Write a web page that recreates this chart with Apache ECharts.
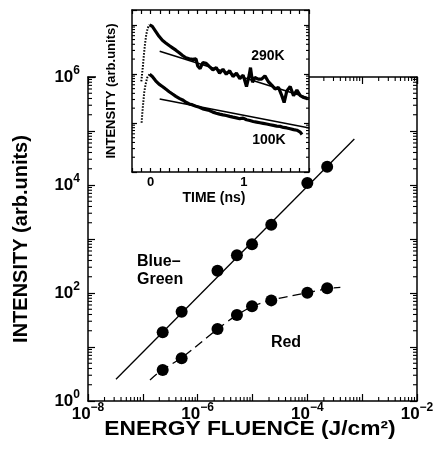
<!DOCTYPE html>
<html><head><meta charset="utf-8">
<script src="https://cdn.jsdelivr.net/npm/echarts@6/dist/echarts.min.js"></script>
<style>html,body{margin:0;padding:0;background:#fff}#c{width:438px;height:450px}</style>
</head><body><div id="c"></div>
<script>
// ---- main panel data ----
const fluence   = [2.3e-7, 5.1e-7, 2.3e-6, 5.2e-6, 9.8e-6, 2.2e-5, 1.0e-4, 2.3e-4];
const blueGreen = [18.7, 45, 259, 499, 798, 1840, 10900, 21800];
const red       = [3.75, 6.2, 21.5, 39, 57, 73, 101, 122];
const blueGreenFitX = [3.24e-8, 7.2e-4];
const blueGreenFitY = [2.52, 71100];
const redFitX = [1.35e-7, 2.2e-7, 5.1e-7, 2.3e-6, 5.2e-6, 9.8e-6, 2.2e-5, 1.0e-4, 2.3e-4, 4.0e-4];
const redFitY = [2.45, 3.7, 6.3, 21.5, 39, 56, 74, 101, 120, 127];

// ---- inset data (time in ns, intensity arb.) ----
const rise290T = [-0.100, -0.083, -0.072, -0.061, -0.047, -0.032, -0.011];
const rise290I = [70, 144, 248, 395, 628, 857, 1000];
const decay290T = [-0.011, 0.018, 0.054, 0.090, 0.126, 0.162, 0.199, 0.235, 0.271, 0.307, 0.343, 0.379, 0.415, 0.451, 0.487,
  0.505, 0.531, 0.560, 0.596, 0.632, 0.668, 0.704, 0.740, 0.776, 0.812, 0.848, 0.884, 0.921, 0.957, 0.993,
  1.029, 1.058, 1.072, 1.094, 1.119, 1.155, 1.191, 1.227, 1.264, 1.300, 1.336, 1.372, 1.408, 1.433, 1.462,
  1.498, 1.534, 1.570, 1.606, 1.643, 1.686];
const decay290I = [1000, 925, 735, 582, 483, 427, 378, 339, 304, 269, 237, 213, 203, 197, 203,
  145, 128, 169, 164, 140, 120, 134, 103, 124, 98, 116, 88, 103, 80, 94,
  55, 94, 134, 67, 84, 78, 78, 91, 69, 59, 49, 53, 36, 26, 45,
  55, 36, 47, 36, 33, 31];
const fit290T = [0.097, 1.704];
const fit290I = [290, 31.7];

const rise100T = [-0.097, -0.090, -0.079, -0.069, -0.054, -0.036, -0.011];
const rise100I = [10.1, 15.3, 26.4, 41.9, 61.7, 84.1, 98.2];
const decay100T = [-0.011, 0.018, 0.054, 0.090, 0.126, 0.162, 0.199, 0.235, 0.271, 0.307, 0.343, 0.379, 0.415, 0.451, 0.487,
  0.523, 0.560, 0.596, 0.632, 0.668, 0.704, 0.740, 0.776, 0.812, 0.848, 0.884, 0.921, 0.957, 0.993,
  1.029, 1.065, 1.101, 1.137, 1.173, 1.209, 1.245, 1.282, 1.318, 1.354, 1.390, 1.426, 1.462, 1.498,
  1.534, 1.570, 1.606, 1.625];
const decay100I = [98.2, 88.1, 72.1, 61.7, 55.3, 48.9, 43.3, 38.8, 34.8, 31.7, 29.4, 26.4, 24.4, 23.3, 21.9,
  20.9, 19.3, 18.7, 17.9, 16.6, 15.8, 15.1, 14.6, 14.2, 13.6, 13.1, 12.7, 12.2, 12.5,
  11.6, 11.2, 10.7, 10.4, 10.1, 9.8, 9.5, 9.2, 8.9, 8.6, 8.5, 8.1, 7.9, 7.6,
  7.3, 7.1, 6.5, 5.8];
const fit100T = [0.097, 1.704];
const fit100I = [30.8, 7.9];

// ---- axis tick definitions ----
const mainXDecades = [1e-8, 1e-7, 1e-6, 1e-5, 1e-4, 1e-3];
const mainYDecades = [1, 10, 100, 1e3, 1e4, 1e5];
const insetYDecades = [1, 10, 100];
const minorMultipliers = [2, 3, 4, 5, 6, 7, 8, 9];

const FF = '"Liberation Sans", Arial, Helvetica, sans-serif';
const zip = (a, b) => a.map((v, i) => [v, b[i]]);
const minorValues = decs => decs.flatMap(d => minorMultipliers.map(m => m * d));

function decadeLabel(v) {
  const e = Math.round(Math.log10(v));
  if (e % 2 !== 0) return '';
  return '{b|10}{s|' + String(e).replace('-', '\u2212') + '}';
}
const richSup = {
  b: { fontSize: 17, fontWeight: 'bold', fontFamily: FF, color: '#000', lineHeight: 24 },
  s: { fontSize: 12, fontWeight: 'bold', fontFamily: FF, color: '#000', lineHeight: 12, verticalAlign: 'top' }
};
const lineStyle = { color: '#000', width: 1.5 };
const tickStyle = { color: '#000', width: 1.2 };

function logAxis(gridIndex, position, min, max, showLabel, z) {
  return {
    type: 'log', logBase: 10, gridIndex, position, min, max, z,
    axisLine: { show: true, onZero: false, lineStyle },
    axisTick: { show: true, inside: true, length: gridIndex === 0 ? 7 : 5, lineStyle: tickStyle },
    minorTick: { show: false },
    splitLine: { show: false }, minorSplitLine: { show: false },
    axisLabel: showLabel ? { show: true, formatter: decadeLabel, rich: richSup, margin: position === 'left' ? 8 : 1 } : { show: false }
  };
}
function timeAxis(position, showLabel) {
  return {
    type: 'value', gridIndex: 1, position, min: -0.2, max: 1.7, interval: 0.1, z: 4,
    axisLine: { show: true, onZero: false, lineStyle },
    axisTick: { show: true, inside: true, length: 4, lineStyle: tickStyle },
    splitLine: { show: false },
    axisLabel: showLabel ? {
      show: true, margin: 4, fontSize: 13, fontWeight: 'bold', fontFamily: FF, color: '#000',
      formatter: v => Math.abs(v) < 1e-6 ? '0' : (Math.abs(v - 1) < 1e-6 ? '1' : '')
    } : { show: false }
  };
}
// minor tick marks as tiny rect symbols placed through the axes' own scales
function minorTicks(xIdx, yIdx, data, vertical, offset, z) {
  const len = Math.abs(offset) * 2;
  return {
    type: 'scatter', xAxisIndex: xIdx, yAxisIndex: yIdx, z, clip: false, silent: true,
    data, symbol: 'rect',
    symbolSize: vertical ? [1.1, len] : [len, 1.1],
    symbolOffset: vertical ? [0, offset] : [offset, 0],
    itemStyle: { color: '#000', opacity: 1 },
    emphasis: { disabled: true }
  };
}
const mainXMin = 1e-8, mainXMax = 1e-2, mainYMin = 1, mainYMax = 1e6;
const insetYMin = 1, insetYMax = 2000, insetXMin = -0.2, insetXMax = 1.7;

const option = {
  backgroundColor: '#fff',
  animation: false,
  grid: [
    { left: 88, top: 77, width: 329, height: 324 },
    { left: 132, top: 10, width: 177, height: 162 }
  ],
  xAxis: [
    logAxis(0, 'bottom', mainXMin, mainXMax, true, 0),
    logAxis(0, 'top', mainXMin, mainXMax, false, 0),
    timeAxis('bottom', true),
    timeAxis('top', false)
  ],
  yAxis: [
    Object.assign(logAxis(0, 'left', mainYMin, mainYMax, true, 0), {
      name: 'INTENSITY (arb.units)', nameLocation: 'middle', nameGap: 57,
      nameTextStyle: { fontSize: 20, fontWeight: 'bold', fontFamily: FF, color: '#000' }
    }),
    logAxis(0, 'right', mainYMin, mainYMax, false, 0),
    Object.assign(logAxis(1, 'left', insetYMin, insetYMax, false, 4), {
      name: 'INTENSITY (arb.units)', nameLocation: 'middle', nameGap: 14,
      nameTextStyle: { fontSize: 13, fontWeight: 'bold', fontFamily: FF, color: '#000' }
    }),
    logAxis(1, 'right', insetYMin, insetYMax, false, 4)
  ],
  graphic: [
    { type: 'rect', z: 2, shape: { x: 96, y: 73, width: 213, height: 12 }, style: { fill: '#fff' } },
    { type: 'text', x: 250, y: 429, scaleX: 1.14, originX: 0, originY: 0, z: 10,
      style: { text: 'ENERGY FLUENCE (J/cm²)', fontSize: 20, fontWeight: 'bold', fontFamily: FF, fill: '#000', align: 'center', verticalAlign: 'middle' } },
    { type: 'text', x: 137, y: 253, z: 10,
      style: { text: 'Blue\u2013\nGreen', fontSize: 16, fontWeight: 'bold', fontFamily: FF, fill: '#000', lineHeight: 18, align: 'left', verticalAlign: 'top' } },
    { type: 'text', x: 286, y: 343, z: 10,
      style: { text: 'Red', fontSize: 16, fontWeight: 'bold', fontFamily: FF, fill: '#000', align: 'center', verticalAlign: 'middle' } },
    { type: 'text', x: 268, y: 56, z: 10,
      style: { text: '290K', fontSize: 14, fontWeight: 'bold', fontFamily: FF, fill: '#000', align: 'center', verticalAlign: 'middle' } },
    { type: 'text', x: 269, y: 140, z: 10,
      style: { text: '100K', fontSize: 14, fontWeight: 'bold', fontFamily: FF, fill: '#000', align: 'center', verticalAlign: 'middle' } },
    { type: 'text', x: 214, y: 198, z: 10,
      style: { text: 'TIME (ns)', fontSize: 14, fontWeight: 'bold', fontFamily: FF, fill: '#000', align: 'center', verticalAlign: 'middle' } }
  ],
  series: [
    // minor ticks, main frame
    minorTicks(0, 0, minorValues(mainYDecades).map(v => [mainXMin, v]), false, 2, 1),
    minorTicks(0, 0, minorValues(mainYDecades).map(v => [mainXMax, v]), false, -2, 1),
    minorTicks(0, 0, minorValues(mainXDecades).map(v => [v, mainYMin]), true, -2, 1),
    minorTicks(0, 0, minorValues(mainXDecades).map(v => [v, mainYMax]), true, 2, 1),
    // minor ticks, inset frame
    minorTicks(2, 2, minorValues(insetYDecades).map(v => [insetXMin, v]), false, 1.5, 4),
    minorTicks(2, 2, minorValues(insetYDecades).map(v => [insetXMax, v]), false, -1.5, 4),
    // main data
    { type: 'line', xAxisIndex: 0, yAxisIndex: 0, data: zip(blueGreenFitX, blueGreenFitY), symbol: 'none',
      lineStyle: { color: '#000', width: 1.3 }, z: 3 },
    { type: 'line', xAxisIndex: 0, yAxisIndex: 0, data: zip(redFitX, redFitY), symbol: 'none', smooth: 0.3,
      lineStyle: { color: '#000', width: 1.3, type: [9, 5] }, z: 3 },
    { type: 'scatter', xAxisIndex: 0, yAxisIndex: 0, data: zip(fluence, blueGreen), symbol: 'circle', symbolSize: 12,
      itemStyle: { color: '#000', opacity: 1 }, z: 3 },
    { type: 'scatter', xAxisIndex: 0, yAxisIndex: 0, data: zip(fluence, red), symbol: 'circle', symbolSize: 12,
      itemStyle: { color: '#000', opacity: 1 }, z: 3 },
    // inset
    { type: 'line', xAxisIndex: 2, yAxisIndex: 2, data: zip(fit290T, fit290I), symbol: 'none', z: 5,
      lineStyle: { color: '#000', width: 1.6 } },
    { type: 'line', xAxisIndex: 2, yAxisIndex: 2, data: zip(rise290T, rise290I), symbol: 'none', z: 5,
      lineStyle: { color: '#000', width: 2, type: [1.5, 1.5] } },
    { type: 'line', xAxisIndex: 2, yAxisIndex: 2, data: zip(decay290T, decay290I), symbol: 'none', z: 5,
      lineStyle: { color: '#000', width: 3.2 } },
    { type: 'line', xAxisIndex: 2, yAxisIndex: 2, data: zip(rise100T, rise100I), symbol: 'none', z: 5,
      lineStyle: { color: '#000', width: 2, type: [1.5, 1.5] } },
    { type: 'line', xAxisIndex: 2, yAxisIndex: 2, data: zip(decay100T, decay100I), symbol: 'none', z: 5,
      lineStyle: { color: '#000', width: 3.2 } },
    { type: 'line', xAxisIndex: 2, yAxisIndex: 2, data: zip(fit100T, fit100I), symbol: 'none', z: 5,
      lineStyle: { color: '#000', width: 1.6 } }
  ]
};
const chart = echarts.init(document.getElementById('c'), null, { renderer: 'canvas' });
chart.setOption(option);
</script></body></html>
